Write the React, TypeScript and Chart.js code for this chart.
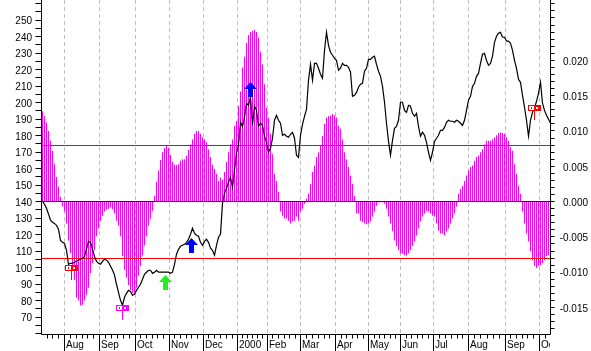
import React, { useEffect, useRef } from 'react';
import { Chart, registerables } from 'chart.js';

Chart.register(...registerables);

// Oscillator histogram (right axis), one bar per slot
const HIST: number[] = [
  0.0128, 0.0121, 0.0112, 0.0100, 0.0086, 0.0072, 0.0053, 0.0035, 0.0021, 0.0007,
  -0.0007, -0.0014, -0.0031, -0.0055, -0.0073, -0.0097, -0.0111, -0.0136, -0.0140, -0.0147,
  -0.0146, -0.0140, -0.0132, -0.0122, -0.0101, -0.0087, -0.0069, -0.0049, -0.0038, -0.0027,
  -0.0020, -0.0014, -0.0011, -0.0010, -0.0008, -0.0011, -0.0017, -0.0027, -0.0034, -0.0049,
  -0.0077, -0.0097, -0.0108, -0.0118, -0.0125, -0.0129, -0.0129, -0.0122, -0.0105, -0.0091,
  -0.0076, -0.0062, -0.0049, -0.0034, -0.0024, -0.0013, 0.0008, 0.0028, 0.0044, 0.0059,
  0.0070, 0.0076, 0.0079, 0.0076, 0.0066, 0.0056, 0.0052, 0.0052, 0.0053, 0.0058,
  0.0060, 0.0060, 0.0065, 0.0073, 0.0081, 0.0088, 0.0096, 0.0100, 0.0100, 0.0096,
  0.0091, 0.0088, 0.0084, 0.0074, 0.0063, 0.0052, 0.0046, 0.0039, 0.0029, 0.0034,
  0.0031, 0.0042, 0.0056, 0.0070, 0.0081, 0.0088, 0.0107, 0.0114, 0.0135, 0.0156,
  0.0190, 0.0205, 0.0225, 0.0236, 0.0240, 0.0242, 0.0243, 0.0240, 0.0232, 0.0212,
  0.0194, 0.0166, 0.0133, 0.0119, 0.0096, 0.0067, 0.0039, 0.0029, 0.0014, -0.0014,
  -0.0020, -0.0024, -0.0024, -0.0027, -0.0031, -0.0028, -0.0027, -0.0021, -0.0027, -0.0014,
  -0.0010, -0.0003, 0.0004, 0.0011, 0.0025, 0.0042, 0.0051, 0.0063, 0.0070, 0.0079,
  0.0093, 0.0110, 0.0119, 0.0121, 0.0122, 0.0124, 0.0122, 0.0119, 0.0107, 0.0103,
  0.0088, 0.0070, 0.0060, 0.0049, 0.0037, 0.0025, 0.0008, -0.0017, -0.0017, -0.0027,
  -0.0029, -0.0031, -0.0032, -0.0031, -0.0028, -0.0021, -0.0014, -0.0006, -0.0001, -0.0001,
  -0.0001, -0.0003, -0.0010, -0.0021, -0.0031, -0.0042, -0.0055, -0.0063, -0.0069, -0.0073,
  -0.0074, -0.0076, -0.0076, -0.0073, -0.0069, -0.0063, -0.0056, -0.0048, -0.0038, -0.0028,
  -0.0021, -0.0017, -0.0013, -0.0014, -0.0017, -0.0020, -0.0021, -0.0031, -0.0041, -0.0045,
  -0.0045, -0.0048, -0.0042, -0.0038, -0.0031, -0.0024, -0.0017, -0.0007, 0.0011, 0.0018,
  0.0022, 0.0029, 0.0037, 0.0044, 0.0049, 0.0051, 0.0058, 0.0063, 0.0065, 0.0070,
  0.0074, 0.0081, 0.0086, 0.0086, 0.0086, 0.0088, 0.0091, 0.0094, 0.0097, 0.0098,
  0.0097, 0.0096, 0.0091, 0.0086, 0.0077, 0.0072, 0.0053, 0.0039, 0.0022, 0.0011,
  -0.0014, -0.0031, -0.0045, -0.0056, -0.0070, -0.0083, -0.0091, -0.0094, -0.0091, -0.0090,
  -0.0087, -0.0083, -0.0077, -0.0076,
];

// Price (left axis), one point per slot
const PRICE: number[] = [
  140.2, 138.4, 136.0, 132.4, 128.7, 127.5, 126.8, 125.6, 123.2, 116.5,
  115.3, 114.7, 110.5, 102.0, 102.6, 102.6, 103.2, 103.8, 104.5, 105.1,
  105.7, 106.8, 111.1, 115.9, 115.3, 111.1, 106.8, 103.8, 102.6, 102.0,
  103.8, 105.1, 104.5, 103.2, 100.8, 98.5, 95.5, 89.9, 85.0, 80.2,
  77.2, 82.0, 84.4, 86.2, 85.6, 83.2, 83.8, 86.2, 88.1, 89.9,
  92.9, 95.9, 97.2, 98.4, 98.4, 96.5, 97.2, 98.4, 97.2, 97.2,
  97.2, 97.2, 97.2, 97.2, 96.5, 97.2, 102.0, 108.1, 111.1, 112.9,
  113.5, 114.1, 115.3, 117.2, 120.2, 123.8, 120.8, 119.6, 119.0, 115.3,
  113.5, 115.9, 117.2, 115.3, 111.7, 110.5, 107.5, 113.5, 118.4, 120.2,
  139.0, 145.0, 148.1, 151.7, 154.7, 148.7, 159.0, 169.3, 174.1, 188.1,
  185.6, 191.1, 199.6, 198.4, 203.2, 186.2, 197.8, 195.3, 185.6, 187.5,
  186.2, 179.6, 175.9, 169.9, 172.3, 178.4, 189.3, 192.3, 189.3, 187.5,
  180.2, 180.8, 179.6, 179.0, 180.8, 182.0, 178.4, 168.1, 166.8, 180.2,
  186.8, 191.7, 195.9, 213.5, 223.2, 213.5, 223.8, 223.8, 220.8, 217.2,
  214.7, 231.7, 242.6, 234.7, 230.5, 228.7, 226.8, 225.6, 219.6, 220.8,
  223.8, 222.6, 222.6, 221.4, 218.4, 203.8, 204.4, 206.2, 209.3, 211.1,
  211.7, 219.0, 220.8, 226.2, 226.2, 227.5, 228.1, 223.2, 219.0, 215.9,
  209.8, 200.2, 187.5, 176.5, 168.1, 177.1, 184.4, 185.6, 189.3, 200.2,
  200.2, 195.3, 194.1, 198.4, 197.8, 193.5, 191.7, 193.5, 185.6, 179.6,
  182.0, 180.2, 175.9, 169.9, 165.0, 169.9, 176.5, 178.4, 180.2, 183.2,
  183.2, 185.0, 188.1, 189.3, 188.7, 188.7, 188.1, 189.3, 188.7, 187.5,
  186.2, 189.3, 195.3, 201.4, 203.8, 209.8, 211.7, 215.9, 217.7, 223.8,
  229.3, 229.9, 225.6, 222.6, 223.8, 228.1, 236.5, 240.2, 242.0, 242.6,
  239.6, 239.6, 237.2, 237.2, 236.0, 231.7, 225.6, 220.8, 214.1, 212.3,
  204.4, 197.2, 189.3, 179.6, 189.3, 194.1, 196.5, 200.8, 205.6, 212.3,
  199.6, 195.3, 192.3, 189.9, 187.5,
];

// Month boundaries (slot units) and their labels
const MONTH_LABELS = ['Aug', 'Sep', 'Oct', 'Nov', 'Dec', '2000', 'Feb', 'Mar', 'Apr', 'May', 'Jun', 'Jul', 'Aug', 'Sep', 'Oct'];
const MONTH_STARTS = [11, 28.5, 46.35, 63.35, 80.35, 97.65, 112.35, 129.15, 146.65, 163.15, 179.15, 195.65, 213.15, 231.35, 248.35];

// Left axis (price)
const LEFT_MIN = 59.76;
const LEFT_MAX = 262.18;
const LEFT_TICK_STEP = 5;
const LEFT_LABEL_FROM = 70;
const LEFT_LABEL_TO = 250;
const LEFT_LABEL_STEP = 10;

// Right axis (oscillator)
const RIGHT_MIN = -0.018747;
const RIGHT_MAX = 0.028545;
const RIGHT_TICK_STEP = 0.001;
const RIGHT_LABELS = [-0.015, -0.01, -0.005, 0, 0.005, 0.01, 0.015, 0.02];
const THRESHOLDS = [0.008, -0.008];

// Signal markers: slot position, price level
const SIGNALS = [
  { slot: 14, value: 99.8, kind: 'flag', color: '#FF0000' },
  { slot: 39.5, value: 75.5, kind: 'flag', color: '#FF00FF' },
  { slot: 61, value: 95.4, kind: 'arrow', color: '#22EE22' },
  { slot: 74, value: 117.8, kind: 'arrow', color: '#0000FF' },
  { slot: 103.5, value: 212.5, kind: 'arrow', color: '#0000FF' },
  { slot: 245.5, value: 196.8, kind: 'flag', color: '#FF0000' },
];

const FONT = '10px "Liberation Sans", Arial, sans-serif';

const decor = {
  id: 'decor',
  beforeDatasetsDraw(chart: any) {
    const { ctx, chartArea: a, scales } = chart;
    const x = scales.x;
    ctx.save();
    ctx.strokeStyle = '#C0C0C0';
    ctx.lineWidth = 1;
    ctx.setLineDash([4, 3]);
    for (const m of MONTH_STARTS) {
      const px = Math.floor(x.getPixelForValue(m)) + 0.5;
      ctx.beginPath();
      ctx.moveTo(px, a.top);
      ctx.lineTo(px, a.bottom);
      ctx.stroke();
    }
    ctx.restore();
  },
  afterDatasetDraw(chart: any, args: any) {
    if (args.index !== 0) return;
    const { ctx, chartArea: a, scales } = chart;
    const yR = scales.yR;
    ctx.save();
    ctx.lineWidth = 1;
    ctx.strokeStyle = '#FF0000';
    for (const t of THRESHOLDS) {
      const py = Math.floor(yR.getPixelForValue(t)) + 0.5;
      ctx.beginPath();
      ctx.moveTo(a.left, py);
      ctx.lineTo(a.right, py);
      ctx.stroke();
    }
    ctx.strokeStyle = '#0000FF';
    const pz = Math.floor(yR.getPixelForValue(0)) + 0.5;
    ctx.beginPath();
    ctx.moveTo(a.left, pz);
    ctx.lineTo(a.right, pz);
    ctx.stroke();
    ctx.restore();
  },
  afterDatasetsDraw(chart: any) {
    const { ctx, chartArea: a, scales } = chart;
    const x = scales.x;
    const yL = scales.yL;
    const yR = scales.yR;
    ctx.save();

    // markers
    for (const s of SIGNALS) {
      const cx = Math.round(x.getPixelForValue(s.slot));
      const cy = Math.round(yL.getPixelForValue(s.value));
      ctx.fillStyle = s.color;
      if (s.kind === 'flag') {
        ctx.fillRect(cx - 6, cy - 3, 13, 6);
        ctx.fillStyle = '#FFFFFF';
        ctx.fillRect(cx - 5, cy - 2, 5, 4);
        ctx.fillRect(cx + 2, cy - 1, 2, 2);
        ctx.fillStyle = s.color;
        ctx.fillRect(cx - 3, cy - 1, 1, 2);
        ctx.fillRect(cx, cy + 3, 1, 9);
      } else {
        ctx.beginPath();
        ctx.moveTo(cx + 0.5, cy);
        ctx.lineTo(cx - 6, cy + 7);
        ctx.lineTo(cx + 7, cy + 7);
        ctx.closePath();
        ctx.fill();
        ctx.fillRect(cx - 2, cy + 7, 5, 8);
      }
    }

    // axis lines
    ctx.strokeStyle = '#000000';
    ctx.lineWidth = 1;
    const lx = Math.floor(a.left) + 0.5;
    const rx = Math.floor(a.right) - 0.5;
    const by = Math.floor(a.bottom) + 0.5;
    ctx.beginPath();
    ctx.moveTo(lx, a.top);
    ctx.lineTo(lx, by);
    ctx.moveTo(rx, a.top);
    ctx.lineTo(rx, by);
    ctx.moveTo(lx, by);
    ctx.lineTo(rx, by);
    ctx.stroke();

    ctx.font = FONT;
    ctx.fillStyle = '#000000';

    // left ticks + labels
    ctx.textAlign = 'right';
    ctx.textBaseline = 'middle';
    for (let v = Math.ceil(LEFT_MIN / LEFT_TICK_STEP) * LEFT_TICK_STEP; v <= LEFT_MAX; v += LEFT_TICK_STEP) {
      const py = Math.floor(yL.getPixelForValue(v)) + 0.5;
      if (py > by) continue;
      ctx.beginPath();
      ctx.moveTo(lx - 6, py);
      ctx.lineTo(lx, py);
      ctx.stroke();
    }
    for (let v = LEFT_LABEL_FROM; v <= LEFT_LABEL_TO; v += LEFT_LABEL_STEP) {
      const py = yL.getPixelForValue(v);
      ctx.fillText(String(v), 32, py + 1.5);
    }

    // right ticks + labels
    for (let k = Math.ceil(RIGHT_MIN / RIGHT_TICK_STEP); k * RIGHT_TICK_STEP <= RIGHT_MAX; k++) {
      const py = Math.floor(yR.getPixelForValue(k * RIGHT_TICK_STEP)) + 0.5;
      if (py > by) continue;
      ctx.beginPath();
      ctx.moveTo(rx, py);
      ctx.lineTo(rx + 4, py);
      ctx.stroke();
    }
    ctx.textAlign = 'right';
    for (const v of RIGHT_LABELS) {
      const py = yR.getPixelForValue(v);
      ctx.fillText(v.toFixed(3), 588, py + 1.5);
    }

    // bottom ticks
    const bounds = [...MONTH_STARTS];
    for (let i = 0; i < bounds.length; i++) {
      const px = Math.floor(x.getPixelForValue(bounds[i])) + 0.5;
      ctx.beginPath();
      ctx.moveTo(px, by);
      ctx.lineTo(px, chart.height);
      ctx.stroke();
    }
    for (let i = -1; i < bounds.length; i++) {
      const start = i < 0 ? bounds[0] - 17.5 : bounds[i];
      const end = i + 1 < bounds.length ? bounds[i + 1] : start + 17.5;
      const n = 6;
      for (let j = 1; j < n; j++) {
        const v = start + ((end - start) * j) / n;
        if (v < x.min || v > x.max) continue;
        const px = Math.floor(x.getPixelForValue(v)) + 0.5;
        if (px <= lx || px >= rx) continue;
        ctx.beginPath();
        ctx.moveTo(px, by);
        ctx.lineTo(px, by + 4);
        ctx.stroke();
      }
    }

    // month labels
    ctx.save();
    ctx.beginPath();
    ctx.rect(a.left, a.bottom, a.right - a.left - 1, chart.height - a.bottom);
    ctx.clip();
    ctx.textAlign = 'left';
    ctx.textBaseline = 'alphabetic';
    for (let i = 0; i < MONTH_STARTS.length; i++) {
      const px = Math.floor(x.getPixelForValue(MONTH_STARTS[i]));
      ctx.fillText(MONTH_LABELS[i], px + 2, 348);
    }
    ctx.restore();

    ctx.restore();
  },
};

export default function App() {
  const ref = useRef<HTMLCanvasElement>(null);
  useEffect(() => {
    const canvas = ref.current;
    if (!canvas) return;
    const chart = new Chart(canvas, {
      type: 'bar',
      data: {
        datasets: [
          {
            type: 'bar',
            data: HIST.map((v, i) => ({ x: i, y: v })),
            backgroundColor: '#FF00FF',
            borderWidth: 0,
            barThickness: 1,
            inflateAmount: 0,
            grouped: false,
            yAxisID: 'yR',
            xAxisID: 'x',
            order: 1,
          } as any,
          {
            type: 'line',
            data: PRICE.map((v, i) => ({ x: i, y: v })),
            borderColor: '#000000',
            borderWidth: 1.2,
            pointRadius: 0,
            tension: 0,
            fill: false,
            yAxisID: 'yL',
            xAxisID: 'x',
            order: 0,
          } as any,
        ],
      },
      options: {
        animation: false,
        responsive: false,
        maintainAspectRatio: false,
        events: [],
        layout: { padding: { left: 41, right: 40, top: 0, bottom: 17 } },
        plugins: { legend: { display: false }, tooltip: { enabled: false } },
        scales: {
          x: { type: 'linear', display: false, min: -0.75, max: 254.25, offset: false },
          yL: { type: 'linear', display: false, position: 'left', min: LEFT_MIN, max: LEFT_MAX },
          yR: { type: 'linear', display: false, position: 'right', min: RIGHT_MIN, max: RIGHT_MAX },
        },
      } as any,
      plugins: [decor],
    });
    return () => chart.destroy();
  }, []);
  return (
    <div style={{ position: 'fixed', left: 0, top: 0, width: 591, height: 351, background: '#FFFFFF' }}>
      <canvas ref={ref} width={591} height={351} style={{ display: 'block', width: 591, height: 351 }} />
    </div>
  );
}
